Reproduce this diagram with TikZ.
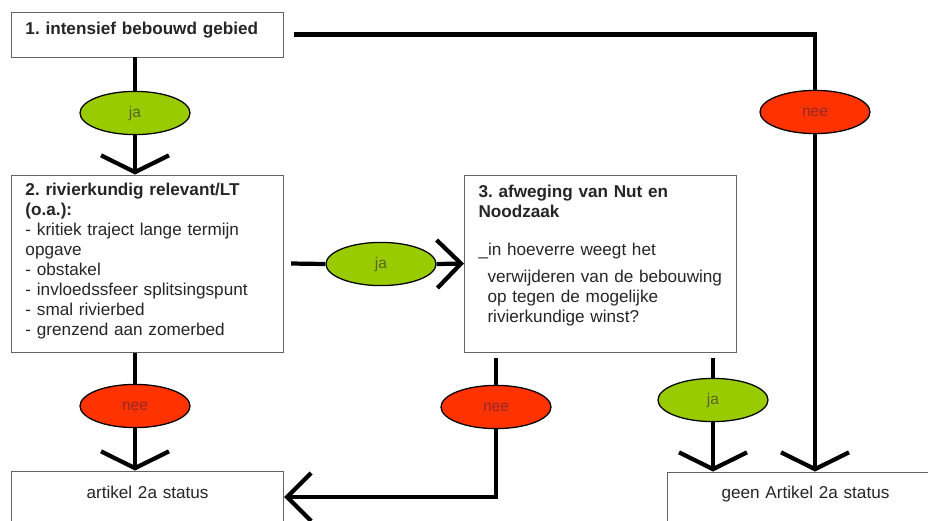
\documentclass[tikz,border=0pt]{standalone}
\usepackage{fontspec}
\setmainfont{Liberation Sans}
\usetikzlibrary{arrows.meta,positioning,calc,shapes.geometric}

\definecolor{jaGreen}{RGB}{153,204,0}
\definecolor{neeRed}{RGB}{255,51,0}
\definecolor{jaText}{RGB}{90,100,40}
\definecolor{neeText}{RGB}{150,40,40}
\definecolor{boxLine}{RGB}{100,100,100}

\frenchspacing

\begin{document}
\begin{tikzpicture}[x=0.025cm, y=-0.025cm,
    stap/.style={draw=boxLine, line width=0.7pt, fill=white, inner xsep=0.35cm, inner ysep=0pt,
      text width=6.1cm, align=left, anchor=base west, text=black!85,
      font=\fontsize{12.2}{14.3}\selectfont},
    keuze/.style={ellipse, draw=black, line width=0.9pt, inner sep=0pt,
      minimum width=2.75cm, minimum height=1.08cm, font=\fontsize{11}{13}\selectfont},
    ja/.style={keuze, fill=jaGreen, text=jaText},
    nee/.style={keuze, fill=neeRed, text=neeText},
    lijn/.style={line width=3pt},
    pijl/.style={lijn, -{Straight Barb[length=0.42cm, width=1.7cm]}},
    zijpijl/.style={lijn, -{Straight Barb[length=0.6cm, width=1.2cm]}}
  ]
  \useasboundingbox (0,0) rectangle (928,520);

  % Stappen
  \node[stap, text height=0.55cm, text depth=0.575cm] (gebied) at (11,34)
    {\textbf{1. intensief bebouwd gebied}};
  \node[stap, text height=0.5cm, text depth=3.925cm] (relevant) at (11,195)
    {\textbf{2. rivierkundig relevant/LT}\\
     \textbf{(o.a.):}\\
     - kritiek traject lange termijn\\
     opgave\\
     - obstakel\\
     - invloedssfeer splitsingspunt\\
     - smal rivierbed\\
     - grenzend aan zomerbed};
  \node[stap, text height=0.55cm, text depth=3.875cm] (afweging) at (464,197)
    {\textbf{3. afweging van Nut en}\\
     \textbf{Noodzaak}\\[12.8pt]
     \_in hoeverre weegt het\\[5pt]
     \hspace*{0.225cm}verwijderen van de bebouwing\\
     \hspace*{0.225cm}op tegen de mogelijke\\
     \hspace*{0.225cm}rivierkundige winst?};

  % Uitkomsten
  \node[stap, align=center, text height=0.675cm, text depth=0.625cm] (status) at (11,498)
    {artikel 2a status};
  \node[stap, align=center, text width=6.2cm, text height=0.65cm, text depth=0.625cm] (geen) at (667,498)
    {geen Artikel 2a status};

  % Keuzes
  \node[ja]  (ja1)  at (135,113) {ja};
  \node[nee] (nee1) at (815,112) {nee};
  \node[ja]  (ja2)  at (381,264) {ja};
  \node[nee] (nee2) at (135,406) {nee};
  \node[nee] (nee3) at (496,407) {nee};
  \node[ja]  (ja3)  at (713,400) {ja};

  % Verbindingen
  \draw[lijn] (ja1 |- gebied.south) -- (ja1.north);
  \draw[pijl] (ja1.south) -- (ja1 |- relevant.north);

  \draw[lijn] ([xshift=0.25cm]gebied.east) -| (nee1.north);
  \draw[pijl] (nee1.south) -- (nee1 |- geen.north);

  \draw[lijn] ([xshift=0.175cm]relevant.east) -- (ja2.west);
  \draw[zijpijl] (ja2.east) -- (afweging.west);

  \draw[lijn] (nee2 |- relevant.south) -- (nee2.north);
  \draw[pijl] (nee2.south) -- (nee2 |- status.north);

  \draw[lijn] ($(nee3 |- afweging.south)+(0,5)$) -- (nee3.north);
  \draw[zijpijl] (nee3.south) |- (status.east);

  \draw[lijn] ($(ja3 |- afweging.south)+(0,5)$) -- (ja3.north);
  \draw[pijl] (ja3.south) -- (ja3 |- geen.north);
\end{tikzpicture}
\end{document}
